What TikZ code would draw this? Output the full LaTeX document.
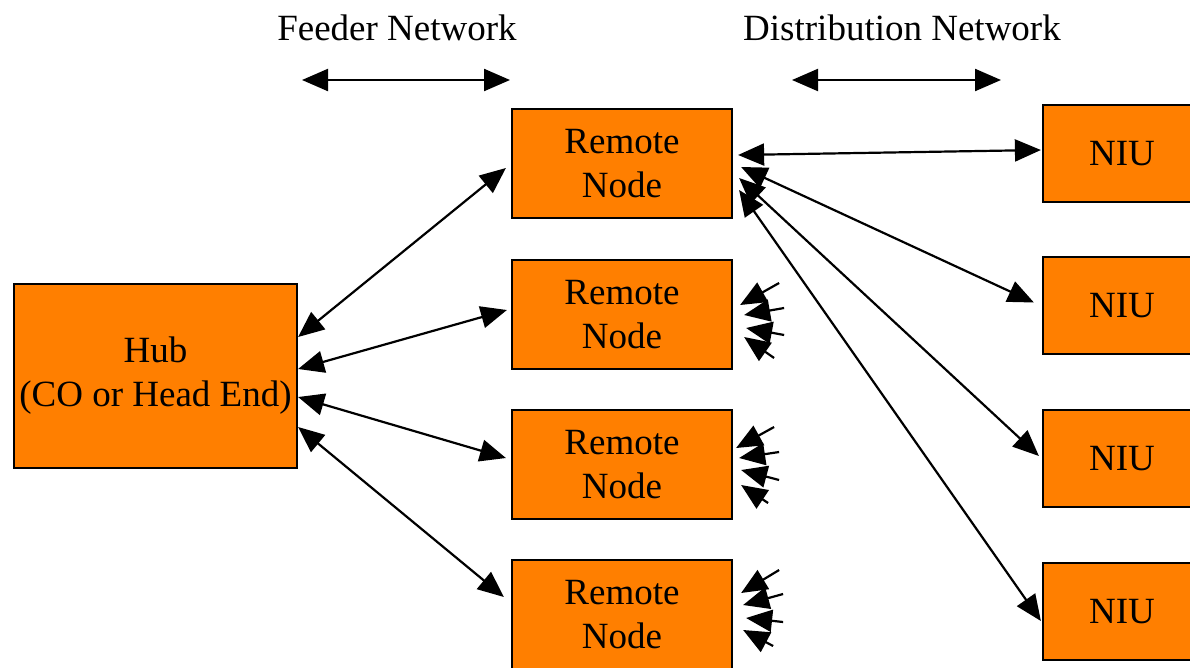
\documentclass[tikz,border=0pt]{standalone}
\usepackage{fontspec}
\setmainfont{Liberation Serif}
\usetikzlibrary{arrows.meta,calc}
\definecolor{boxorange}{HTML}{FF7F00}
\tikzset{
  box/.style={draw=black, line width=2.2pt, fill=boxorange, inner sep=0pt,
    align=center, font=\fontsize{37}{44}\selectfont},
  hubbox/.style={box, minimum width=283pt, minimum height=184pt},
  remotebox/.style={box, minimum width=220pt, minimum height=109pt},
  niubox/.style={box, minimum width=158pt, minimum height=97pt},
  link/.style={line width=2.2pt, {Triangle[length=26pt,width=22pt]}-{Triangle[length=26pt,width=22pt]}},
  stub/.style={line width=2.2pt, -{Triangle[length=26pt,width=22pt]}},
  label/.style={font=\fontsize{37}{44}\selectfont, inner sep=0pt}
}
\begin{document}
\begin{tikzpicture}[x=1pt,y=-1pt]
\clip (0,0) rectangle (1190,667);
\fill[white] (0,0) rectangle (1190,667);

% network section labels and span arrows
\node[label] (feeder) at (397,28) {Feeder Network};
\node[label] (distrib) at (902,28) {Distribution Network};
\coordinate (f1) at (302,80);
\coordinate (f2) at (510,80);
\coordinate (d1) at (792,80);
\coordinate (d2) at (1001,80);
\draw[link] (f1) -- (f2);
\draw[link] (d1) -- (d2);

% boxes
\node[hubbox] (hub) at (155.5,376) {Hub\\(CO or Head End)};
\node[remotebox] (r1) at (622,163.5) {Remote\\Node};
\node[remotebox] (r2) at (622,314.5) {Remote\\Node};
\node[remotebox] (r3) at (622,464.5) {Remote\\Node};
\node[remotebox] (r4) at (622,614.5) {Remote\\Node};
\node[niubox] (n1) at (1122,153.5) {NIU};
\node[niubox] (n2) at (1122,305.5) {NIU};
\node[niubox] (n3) at (1122,458.5) {NIU};
\node[niubox] (n4) at (1122,611.5) {NIU};

% feeder links: hub to remote nodes
\draw[link] ($(hub.east)+(0,-39)$) -- ($(r1.west)+(-5,4.5)$);
\draw[link] ($(hub.east)+(0,-7)$)  -- ($(r2.west)+(-4,-4.5)$);
\draw[link] ($(hub.east)+(0,21)$)  -- ($(r3.west)+(-5,-6.5)$);
\draw[link] ($(hub.east)+(0,51)$)  -- ($(r4.west)+(-7,-17.5)$);

% distribution links: first remote node to every NIU
\draw[link] ($(r1.east)+(5,-8.5)$) -- ($(n1.west)+(-1,-3.5)$);
\draw[link] ($(r1.east)+(8,3.5)$)  -- ($(n2.west)+(-8,-3)$);
\draw[link] ($(r1.east)+(6,14.5)$) -- ($(n3.west)+(-3,-2.5)$);
\draw[link] ($(r1.east)+(6,26.5)$) -- ($(n4.west)+(-1,9.5)$);

% short incoming stubs on the other remote nodes
\foreach \tx/\ty/\hx/\hy in {46/-31.5/7/-9.5, 51/-6.5/11/0.5, 51/20.5/13/13.5, 41/43.5/11/22.5}
  \draw[stub] ($(r2.east)+(\tx,\ty)$) -- ($(r2.east)+(\hx,\hy)$);
\foreach \tx/\ty/\hx/\hy in {41/-37.5/3/-16.5, 46/-12.5/6/-6.5, 46/15.5/8/5.5, 35/38.5/8/20.5}
  \draw[stub] ($(r3.east)+(\tx,\ty)$) -- ($(r3.east)+(\hx,\hy)$);
\foreach \tx/\ty/\hx/\hy in {46/-44.5/8/-21.5, 50/-20.5/10/-9.5, 50/7.5/13/3.5, 40/31.5/10/15.5}
  \draw[stub] ($(r4.east)+(\tx,\ty)$) -- ($(r4.east)+(\hx,\hy)$);
\end{tikzpicture}
\end{document}
